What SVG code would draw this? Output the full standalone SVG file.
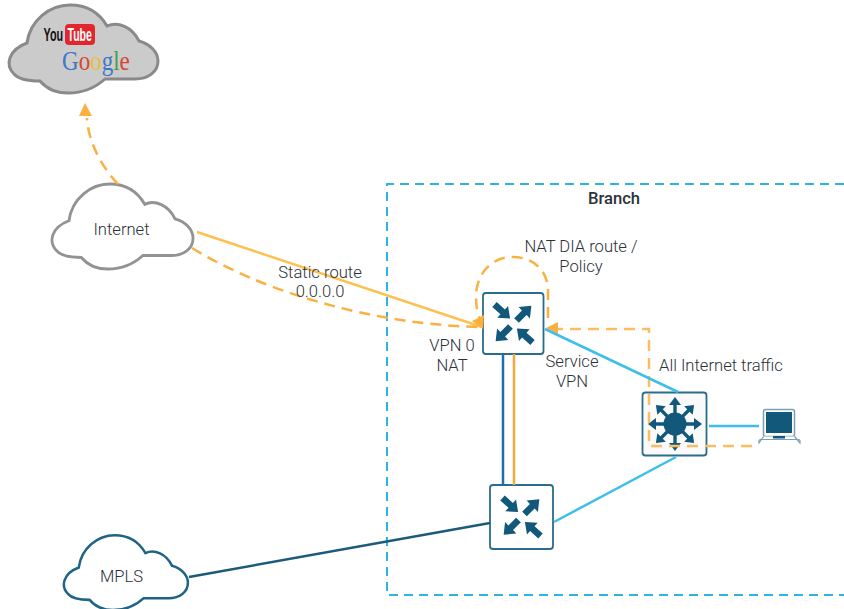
<svg xmlns="http://www.w3.org/2000/svg" width="844" height="609" viewBox="0 0 844 609">
<style>
text{font-family:"Roboto","Liberation Sans",sans-serif;font-size:16.6px;font-weight:300;fill:#2c323a;text-anchor:middle}
.cloud{stroke-width:3;vector-effect:non-scaling-stroke}
.box{fill:#fff;stroke:#2a6c8c;stroke-width:1.800}
.ic{fill:#12587a}
.or{fill:none;stroke:#fbb040;stroke-width:2.500}
.dash{stroke-dasharray:11 7}
.head{fill:#fbb040}
.logo{font-family:"Liberation Sans",sans-serif;font-size:12px;font-weight:700;text-anchor:start}
</style>
<defs>
<path id="cl" d="M27 43C30 20 50 5 70 5C88 5 100 14 107 26C118 21 132 27 139 41C150 44 158 52 158 61C158 72 148 79 135 79L105 79C95 88 82 93 68 93C56 93 46 88 40 81C34 81 20 81 14 74C5 65 8 50 27 43Z"/>
<path id="ar" d="M0-3.300L11-3.300L11-8L21 0L11 8L11 3.300L0 3.300Z"/>
<path id="sp" d="M8-1.700L19-1.700L19-6L27 0L19 6L19 1.700L8 1.700Z"/>
<g id="router">
<use href="#ar" class="ic" transform="translate(-19 -19) rotate(42)"/>
<use href="#ar" class="ic" transform="translate(3 -3) rotate(-45)"/>
<use href="#ar" class="ic" transform="translate(-3 3) rotate(135)"/>
<use href="#ar" class="ic" transform="translate(19 19) rotate(222)"/>
</g>
</defs>
<path d="M844 184H387V595H844" fill="none" stroke="#2db4e2" stroke-width="2" stroke-dasharray="9 6"/>
<g id="cloud-services">
<use href="#cl" class="cloud" fill="#cbcbcb" stroke="#8a8a8a"/>
<text class="logo" transform="translate(43.500 41) scale(.9 1.600)" style="fill:#111">You</text>
<rect x="65" y="24" width="30" height="21" rx="4" fill="#e3262e"/>
<text class="logo" transform="translate(67.500 41) scale(.88 1.600)" style="fill:#fff">Tube</text>
<text transform="translate(62 70) scale(.96 1.100)" style="font-family:'Liberation Serif',serif;font-size:24px;font-weight:400;text-anchor:start"><tspan fill="#3a78c8">G</tspan><tspan fill="#d9442f">o</tspan><tspan fill="#e8c130">o</tspan><tspan fill="#3a78c8">g</tspan><tspan fill="#45a04a">l</tspan><tspan fill="#d9442f">e</tspan></text>
</g>
<g id="internet">
<use href="#cl" class="cloud" fill="#fff" stroke="#939393" transform="translate(43.400 179.200) scale(.947 .966)"/>
<text x="121.500" y="235">Internet</text>
</g>
<g id="mpls">
<use href="#cl" class="cloud" fill="#fff" stroke="#1f6485" transform="translate(56.300 531) scale(.833 .85)"/>
<text x="121.500" y="582">MPLS</text>
</g>
<g id="router-top">
<rect x="483" y="293" width="60.500" height="61" rx="3" class="box"/>
<use href="#router" transform="translate(513.500 323.500)"/>
</g>
<g id="router-bottom">
<rect x="490" y="485" width="63" height="64" rx="3" class="box"/>
<use href="#router" transform="translate(521.500 517)"/>
</g>
<g id="switch">
<rect x="642.500" y="392.500" width="64" height="63" rx="3" fill="#fafafa" stroke="#2a6c8c" stroke-width="1.800"/>
<circle cx="675" cy="424" r="11.500" class="ic"/>
<g class="ic">
<use href="#sp" transform="translate(675 424)"/>
<use href="#sp" transform="translate(675 424) rotate(45)"/>
<use href="#sp" transform="translate(675 424) rotate(90)"/>
<use href="#sp" transform="translate(675 424) rotate(135)"/>
<use href="#sp" transform="translate(675 424) rotate(180)"/>
<use href="#sp" transform="translate(675 424) rotate(225)"/>
<use href="#sp" transform="translate(675 424) rotate(270)"/>
<use href="#sp" transform="translate(675 424) rotate(315)"/>
</g>
</g>
<g id="laptop">
<rect x="763.500" y="409.500" width="31" height="27" rx="2" fill="#fff" stroke="#7ba0b4" stroke-width="1.500"/>
<rect x="766" y="412" width="26" height="21" fill="#12587a"/>
<path d="M763.500 436.500L759 443Q758.500 439.500 760.500 439.500H798.500Q800.500 439.500 800 443L794.500 436.500" fill="#fff" stroke="#7ba0b4" stroke-width="1.200"/>
<rect x="773" y="436" width="12" height="2.500" fill="#12587a"/>
</g>
<g id="connectors">
<path d="M197 232L482 327" class="or" style="stroke:#fcc14f"/>
<path d="M192 248C260 290 370 325 482 327" class="or dash"/>
<path d="M118 184C100 165 88 140 87 118" class="or dash"/>
<polygon points="85,103 92,116 79,116" class="head"/>
<path d="M548 318L548 290C548 270 532 257 513 257C490 257 476 275 476 297C476 307 478 314 480 320" class="or dash"/>
<polygon points="483,329 472,321 484,315" class="head"/>
<path d="M752 446H649V329H556" class="or dash" style="stroke:#fbbd62"/>
<polygon points="546,328 558,322 558,334" class="head"/>
<path d="M545 329L678 392M709 426H759M676 457L554 522" fill="none" stroke="#3dbfe9" stroke-width="2.500"/>
<path d="M503 354V485" stroke="#1d6fb0" stroke-width="2.500"/>
<path d="M514 354V485" stroke="#f5a938" stroke-width="2.500"/>
<path d="M189 577L490 523" stroke="#1c5a7c" stroke-width="2.500"/>
</g>
<g id="labels">
<text x="614" y="204" style="font-weight:500">Branch</text>
<text x="581" y="252">NAT DIA route /</text>
<text x="581" y="272">Policy</text>
<text x="320" y="278">Static route</text>
<text x="320" y="297">0.0.0.0</text>
<text x="452" y="351">VPN 0</text>
<text x="452" y="371">NAT</text>
<text x="572" y="367">Service</text>
<text x="572" y="387">VPN</text>
<text x="721" y="371">All Internet traffic</text>
</g>
</svg>
